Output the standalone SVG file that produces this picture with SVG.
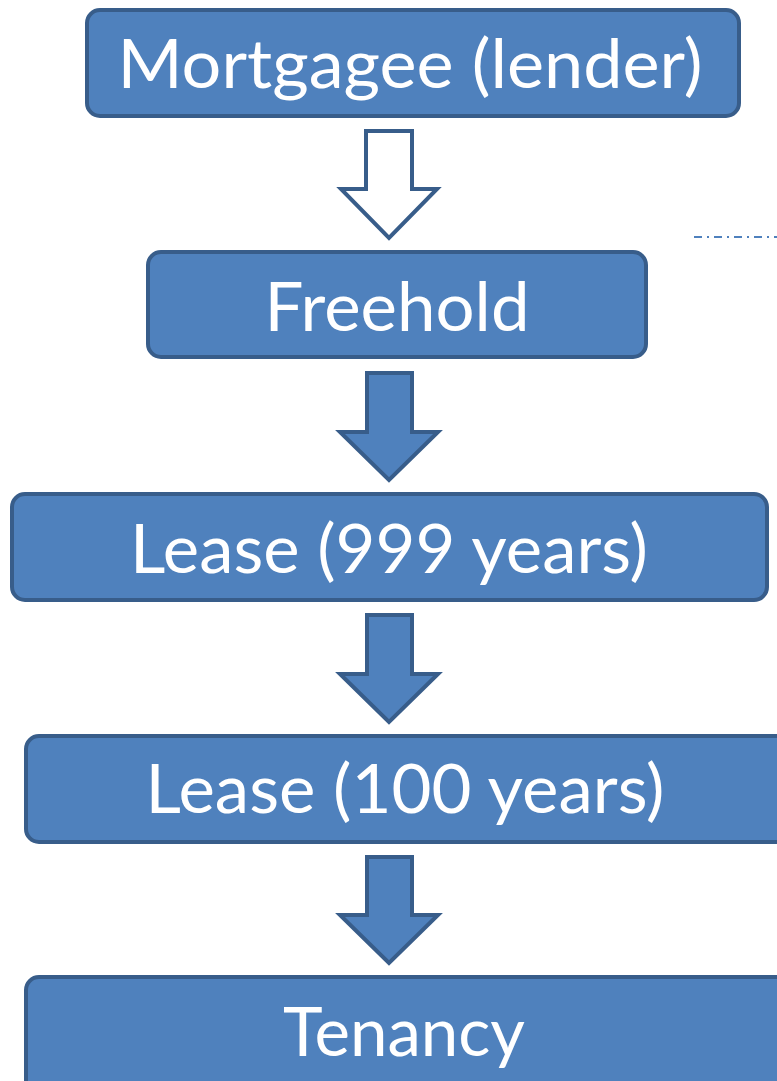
<svg xmlns="http://www.w3.org/2000/svg" width="777" height="1081" viewBox="0 0 777 1081">
<style>
.box{fill:#4f81bd;stroke:#385d8a;stroke-width:4}
.lbl{fill:#ffffff;font-family:"Lato","Open Sans","Liberation Sans",sans-serif;font-size:67px;text-anchor:middle}
.arr{fill:#4f81bd;stroke:#385d8a;stroke-width:4;stroke-linejoin:miter}
.hollow{fill:#ffffff;stroke:#385d8a;stroke-width:4}
</style>
<rect width="777" height="1081" fill="#ffffff"/>
<g id="connectors">
<polygon class="hollow" points="366,131 412,131 412,189 437,189 389,238 341,189 366,189"/>
<polygon class="arr" points="367,373 412,373 412,432 438,432 389,480 340,432 367,432"/>
<polygon class="arr" points="367,615 412,615 412,674 438,674 389,722 340,674 367,674"/>
<polygon class="arr" points="367,857 412,857 412,915 438,915 389,963 340,915 367,915"/>
<line x1="694" y1="237" x2="777" y2="237" stroke="#4f81bd" stroke-width="1.8" stroke-dasharray="8,5,2,5"/>
</g>
<g id="mortgagee">
<rect class="box" x="87" y="10" width="652" height="106" rx="13"/>
<text class="lbl" x="410" y="88" textLength="585" lengthAdjust="spacingAndGlyphs">Mortgagee (lender)</text>
</g>
<g id="freehold">
<rect class="box" x="148" y="252" width="498" height="105" rx="13"/>
<text class="lbl" x="397" y="331" textLength="265" lengthAdjust="spacingAndGlyphs">Freehold</text>
</g>
<g id="lease999">
<rect class="box" x="12" y="494" width="755" height="106" rx="13"/>
<text class="lbl" x="389" y="573" textLength="518" lengthAdjust="spacingAndGlyphs">Lease (999 years)</text>
</g>
<g id="lease100">
<rect class="box" x="26" y="736" width="770" height="106" rx="13"/>
<text class="lbl" x="405" y="813" textLength="519" lengthAdjust="spacingAndGlyphs">Lease (100 years)</text>
</g>
<g id="tenancy">
<rect class="box" x="26" y="977" width="770" height="120" rx="13"/>
<text class="lbl" x="404" y="1056" textLength="242" lengthAdjust="spacingAndGlyphs">Tenancy</text>
</g>
</svg>
